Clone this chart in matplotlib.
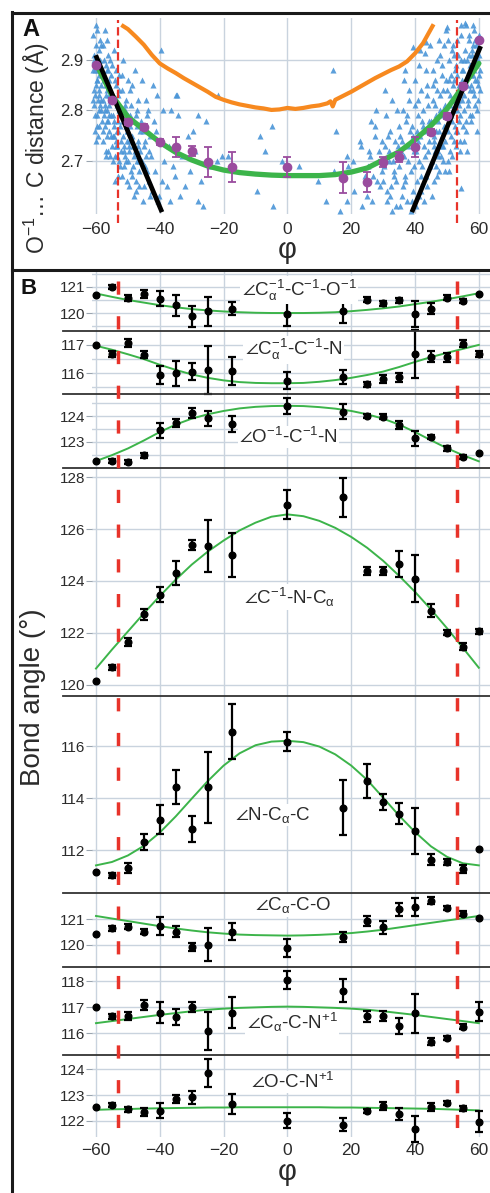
import matplotlib
matplotlib.use('Agg')
import matplotlib.pyplot as plt
from matplotlib.lines import Line2D
from matplotlib import transforms

plt.rcParams['font.family'] = ['Liberation Sans', 'DejaVu Sans']
plt.rcParams['mathtext.fontset'] = 'custom'
plt.rcParams['mathtext.rm'] = 'Liberation Sans'
plt.rcParams['mathtext.it'] = 'Liberation Sans:italic'
plt.rcParams['mathtext.bf'] = 'Liberation Sans:bold'
plt.rcParams['mathtext.fallback'] = 'stixsans'
plt.rcParams['lines.scale_dashes'] = False

# ---------------- data: panel A ----------------
phi_ticks = [-60, -40, -20, 0, 20, 40, 60]

meanA_phi = [-60, -55, -50, -45, -40, -35, -30, -25, -17.5, 0, 17.5, 25, 30, 35, 40, 45, 50, 55, 60]
meanA_dist = [2.89, 2.82, 2.777, 2.768, 2.738, 2.728, 2.719, 2.698, 2.688, 2.688, 2.667, 2.659,
              2.698, 2.708, 2.728, 2.758, 2.789, 2.848, 2.94]
meanA_err = [0, 0.004, 0.006, 0.006, 0.006, 0.02, 0.01, 0.03, 0.03, 0.02, 0.03, 0.02,
             0.01, 0.01, 0.02, 0.006, 0.006, 0.006, 0]

fitA_phi = [-60, -55, -50, -45, -40, -35, -30, -25, -20, -15, -10, -5, 0, 5, 10, 15, 20, 25, 30, 35, 40, 45, 50, 55, 60]
fitA_dist = [2.893, 2.830, 2.787, 2.762, 2.737, 2.717, 2.702, 2.690, 2.682, 2.677, 2.674, 2.672, 2.671,
             2.671, 2.671, 2.673, 2.678, 2.686, 2.702, 2.718, 2.742, 2.770, 2.803, 2.847, 2.893]

orange_phi = [-51.5, -50, -47.5, -45, -42.5, -40, -37.5, -35, -32.5, -30, -27.5, -25, -22.5, -20, -17.5,
              -15, -12.5, -10, -7.5, -5, -2.5, 0, 2.5, 5, 7.5, 10, 12.5, 13.5, 14.2, 15, 17.5, 20, 22.5,
              25, 27.5, 30, 32.5, 35, 37.5, 40, 42.5, 45.5]
orange_dist = [2.967, 2.961, 2.946, 2.930, 2.910, 2.893, 2.883, 2.874, 2.864, 2.855, 2.846, 2.837, 2.827,
               2.821, 2.816, 2.812, 2.809, 2.806, 2.804, 2.801, 2.802, 2.805, 2.803, 2.805, 2.808, 2.810,
               2.814, 2.818, 2.808, 2.821, 2.829, 2.837, 2.846, 2.855, 2.864, 2.872, 2.880, 2.887, 2.897,
               2.913, 2.933, 2.967]

lineL_phi = [-59.8, -39.6]
lineL_dist = [2.905, 2.603]
lineR_phi = [39.3, 60.3]
lineR_dist = [2.603, 2.923]

boundary_phi = [-53, 53]

scatter_phi = [
    -60.8, -60.5, -60.2, -59.9, -59.6, -59.3, -59.0, -58.7, -58.4, -58.1,
    -60.6, -60.1, -59.7, -59.2, -58.9, -58.5, -58.2, -60.9, -60.3, -59.5,
    -60.7, -60.0, -59.4, -58.8, -58.3, -60.4, -59.8, -59.1, -58.6, -60.2,
    -59.9, -59.3, -58.7, -60.5, -59.6, -58.9, -60.8, -59.0, -58.4, -59.7,
    -57.9, -57.6, -57.3, -57.0, -56.7, -56.4, -56.1, -55.8, -55.5, -55.2,
    -57.7, -57.2, -56.8, -56.3, -55.9, -55.4, -57.5, -56.9, -56.2, -55.6,
    -57.8, -57.1, -56.6, -56.0, -55.3, -57.4, -56.5, -55.7, -57.0, -56.1,
    -55.5, -57.6, -56.8, -56.0, -55.1, -57.3, -56.4, -55.8, -57.9, -56.7,
    -54.9, -54.6, -54.3, -54.0, -53.7, -53.4, -53.1, -52.8, -52.5, -52.2,
    -54.7, -54.2, -53.8, -53.3, -52.9, -52.4, -54.5, -53.9, -53.2, -52.6,
    -54.8, -54.1, -53.6, -53.0, -52.3, -54.4, -53.5, -52.7, -54.0, -53.1,
    -52.1, -54.6, -53.8, -52.9, -53.4,
    -51.8, -51.5, -51.2, -50.9, -50.6, -50.3, -50.0, -49.7, -49.4, -49.1,
    -51.6, -51.1, -50.7, -50.2, -49.8, -49.3, -51.4, -50.8, -50.1, -49.5,
    -51.9, -51.0, -50.4, -49.9, -49.2, -51.3, -50.5, -49.6, -51.7, -50.0,
    -48.9, -48.6, -48.3, -48.0, -47.7, -47.4, -47.1, -46.8, -46.5, -46.2,
    -48.7, -48.1, -47.6, -47.0, -46.4, -48.4, -47.8, -47.2, -46.6, -46.1,
    -48.8, -47.5, -46.9, -48.2, -46.7,
    -45.9, -45.5, -45.1, -44.7, -44.3, -43.9, -43.5, -43.1, -45.7,
    -45.2, -44.6, -44.0, -43.4, -45.4, -44.8, -44.2, -43.7, -43.2,
    -42.8, -42.3, -41.9, -41.4, -40.9, -40.5, -40.1, -39.6, -39.2, -38.7, -42.0, -41.1, -40.3, -38.9,
    -37.8, -37.0, -36.4, -35.8, -35.3, -34.8, -34.3, -33.6, -32.9, -32.1, -31.3, -30.6, -36.9, -34.5,
    -29.5, -29.0, -28.1, -28.1, -27.0, -25.6, -24.5, -22.2, -21.7, -20.4, -18.7, -26.5,
    -9.6, -8.6, -7.0, -4.9, -4.4, -1.8, 3.7, 9.5, 14.2, 12.0,
    14.6, 15.2, 18.6, 19.0, 18.6, 22.8, 23.3, 23.0, 21.0, 24.2, 16.5, 20.5,
    25.0, 25.6, 26.2, 26.8, 27.3, 27.9, 28.4, 29.0, 29.5, 25.3, 26.5, 27.6, 28.8, 29.8, 26.0, 28.2,
    30.1, 30.5, 30.9, 31.3, 31.7, 32.1, 32.5, 32.9, 33.3, 33.7, 34.1, 34.5, 34.9,
    30.3, 31.1, 31.9, 32.7, 33.5, 34.3,
    30.7, 31.5, 32.3, 33.1, 33.9, 34.7,
    35.1, 35.4, 35.8, 36.1, 36.5, 36.8, 37.2, 37.5, 37.9, 38.2, 38.6, 38.9, 39.3, 39.6, 39.9,
    35.3, 35.9, 36.6, 37.0, 37.7, 38.4, 39.1, 39.7, 35.6, 36.3, 37.4, 38.0, 38.7, 39.4, 36.9,
    40.2, 40.5, 40.9, 41.2, 41.6, 41.9, 42.3, 42.6, 43.0, 43.3, 43.7, 44.0, 44.4, 44.7,
    40.4, 40.8, 41.4, 41.8, 42.2, 42.8, 43.2, 43.6, 44.2, 44.8, 40.1, 41.0, 41.7, 42.5, 43.4, 44.5,
    40.7, 41.3, 42.0, 42.9, 43.9,
    45.1, 45.3, 45.6, 45.9, 46.1, 46.4, 46.7, 46.9, 47.2, 47.5, 47.8, 48.0, 48.3, 48.6, 48.9, 49.1, 49.4, 49.7,
    45.2, 45.7, 46.2, 46.6, 47.0, 47.4, 47.9, 48.4, 48.8, 49.3, 49.8,
    45.5, 46.0, 46.5, 47.1, 47.6, 48.1, 48.7, 49.2, 49.6,
    45.8, 46.8, 47.7, 48.5, 49.5, 46.3, 47.3,
    50.1, 50.3, 50.6, 50.9, 51.1, 51.4, 51.7, 51.9, 52.2, 52.5, 52.8, 53.0, 53.3, 53.6, 53.9, 54.1, 54.4, 54.7,
    50.2, 50.7, 51.2, 51.6, 52.0, 52.4, 52.9, 53.4, 53.8, 54.3, 54.8,
    50.5, 51.0, 51.5, 52.1, 52.6, 53.1, 53.7, 54.2, 54.6,
    50.4, 50.8, 51.3, 51.8, 52.3, 52.7, 53.2, 53.5, 54.0, 54.5, 54.9, 51.9,
    55.1, 55.3, 55.6, 55.9, 56.2, 56.4, 56.7, 57.0, 57.3, 57.5, 57.8, 58.1, 58.4, 58.6, 58.9, 59.2, 59.5, 59.8, 60.1, 60.4,
    55.2, 55.7, 56.1, 56.6, 57.1, 57.6, 58.0, 58.5, 59.0, 59.4, 59.9, 60.3,
    55.5, 56.0, 56.9, 57.4, 58.2, 58.8, 59.6, 60.2,
    55.4, 56.3, 57.2, 57.9, 58.7, 59.3, 60.0, 56.8, 58.3, 59.7,
    43.4, 49.9, 39.5, 43.1, 54.3, 48.9, 55.7, 58.3,
]
scatter_dist = [
    2.95, 2.91, 2.88, 2.93, 2.86, 2.90, 2.84, 2.89, 2.82, 2.87,
    2.81, 2.85, 2.79, 2.83, 2.92, 2.80, 2.78, 2.88, 2.76, 2.82,
    2.84, 2.97, 2.75, 2.94, 2.85, 2.79, 2.86, 2.77, 2.90, 2.83,
    2.74, 2.88, 2.81, 2.90, 2.96, 2.87, 2.82, 2.80, 2.93, 2.77,
    2.93, 2.86, 2.81, 2.89, 2.78, 2.84, 2.91, 2.76, 2.82, 2.87,
    2.74, 2.80, 2.85, 2.72, 2.79, 2.75, 2.90, 2.83, 2.88, 2.71,
    2.82, 2.77, 2.94, 2.81, 2.79, 2.87, 2.75, 2.84, 2.72, 2.78,
    2.90, 2.79, 2.71, 2.86, 2.73, 2.96, 2.80, 2.83, 2.76, 2.88,
    2.89, 2.83, 2.78, 2.86, 2.74, 2.81, 2.76, 2.84, 2.79, 2.72,
    2.70, 2.77, 2.88, 2.73, 2.80, 2.69, 2.75, 2.82, 2.67, 2.77,
    2.79, 2.71, 2.85, 2.78, 2.74, 2.92, 2.76, 2.70, 2.66, 2.83,
    2.80, 2.75, 2.73, 2.87, 2.71,
    2.84, 2.78, 2.73, 2.81, 2.70, 2.76, 2.86, 2.72, 2.79, 2.68,
    2.75, 2.69, 2.82, 2.66, 2.74, 2.77, 2.90, 2.71, 2.79, 2.73,
    2.67, 2.80, 2.74, 2.70, 2.84, 2.72, 2.77, 2.65, 2.87, 2.76,
    2.81, 2.75, 2.69, 2.78, 2.72, 2.66, 2.80, 2.74, 2.70, 2.76,
    2.85, 2.71, 2.64, 2.77, 2.68, 2.73, 2.88, 2.70, 2.65, 2.72,
    2.67, 2.79, 2.73, 2.63, 2.82,
    2.78, 2.70, 2.65, 2.74, 2.82, 2.68, 2.72, 2.63, 2.86,
    2.76, 2.69, 2.79, 2.66, 2.62, 2.73, 2.71, 2.80, 2.75,
    2.71, 2.64, 2.78, 2.68, 2.83, 2.62, 2.74, 2.92, 2.66, 2.70, 2.85, 2.76, 2.63, 2.80,
    2.65, 2.73, 2.80, 2.69, 2.67, 2.83, 2.79, 2.63, 2.71, 2.65, 2.75, 2.68, 2.62, 2.83,
    2.76, 2.72, 2.79, 2.62, 2.66, 2.78, 2.69, 2.70, 2.83, 2.71, 2.71, 2.61,
    2.64, 2.75, 2.72, 2.77, 2.61, 2.70, 2.69, 2.66, 2.88, 2.62,
    2.68, 2.76, 2.71, 2.69, 2.62, 2.74, 2.61, 2.73, 2.64, 2.67, 2.60, 2.70,
    2.63, 2.72, 2.78, 2.67, 2.75, 2.80, 2.70, 2.65, 2.74, 2.69, 2.62, 2.77, 2.72, 2.68, 2.71, 2.66,
    2.66, 2.73, 2.79, 2.62, 2.70, 2.76, 2.65, 2.82, 2.68, 2.74, 2.61, 2.71, 2.77,
    2.69, 2.64, 2.72, 2.60, 2.67, 2.80,
    2.84, 2.75, 2.63, 2.70, 2.66, 2.73,
    2.69, 2.75, 2.63, 2.80, 2.71, 2.66, 2.78, 2.62, 2.73, 2.84, 2.68, 2.77, 2.64, 2.72, 2.81,
    2.61, 2.74, 2.86, 2.67, 2.70, 2.76, 2.62, 2.69, 2.72, 2.65, 2.79, 2.82, 2.60, 2.75, 2.88,
    2.72, 2.66, 2.79, 2.63, 2.75, 2.84, 2.69, 2.77, 2.71, 2.88, 2.65, 2.81, 2.74, 2.93,
    2.61, 2.82, 2.70, 2.67, 2.78, 2.62, 2.76, 2.85, 2.72, 2.69, 2.86, 2.74, 2.92, 2.80, 2.67, 2.78,
    2.76, 2.89, 2.64, 2.73, 2.83,
    2.78, 2.70, 2.85, 2.74, 2.66, 2.81, 2.76, 2.90, 2.72, 2.68, 2.83, 2.79, 2.75, 2.87, 2.70, 2.93, 2.81, 2.77,
    2.63, 2.88, 2.72, 2.79, 2.84, 2.76, 2.91, 2.73, 2.80, 2.68, 2.86,
    2.82, 2.75, 2.69, 2.78, 2.94, 2.71, 2.84, 2.77, 2.96,
    2.73, 2.67, 2.80, 2.89, 2.74, 2.86, 2.71,
    2.84, 2.76, 2.90, 2.72, 2.81, 2.87, 2.78, 2.93, 2.74, 2.83, 2.89, 2.80, 2.76, 2.91, 2.85, 2.79, 2.95, 2.82,
    2.70, 2.86, 2.75, 2.92, 2.80, 2.88, 2.73, 2.84, 2.78, 2.90, 2.86,
    2.79, 2.83, 2.71, 2.86, 2.77, 2.94, 2.81, 2.74, 2.88,
    2.94, 2.68, 2.79, 2.85, 2.91, 2.76, 2.87, 2.82, 2.72, 2.97, 2.77, 2.82,
    2.88, 2.80, 2.92, 2.76, 2.85, 2.90, 2.82, 2.94, 2.79, 2.87, 2.91, 2.84, 2.96, 2.88, 2.81, 2.93, 2.86, 2.90, 2.95, 2.84,
    2.74, 2.86, 2.97, 2.81, 2.89, 2.78, 2.92, 2.83, 2.89, 2.80, 2.94, 2.88,
    2.83, 2.78, 2.91, 2.85, 2.87, 2.94, 2.82, 2.91,
    2.90, 2.72, 2.84, 2.79, 2.86, 2.76, 2.87, 2.95, 2.93, 2.85,
    2.936, 2.966, 2.926, 2.913, 2.646, 2.73, 2.973, 2.97,
]

# ---------------- data: panel B ----------------
phi_b = [-60, -55, -50, -45, -40, -35, -30, -25, -17.5, 0, 17.5, 25, 30, 35, 40, 45, 50, 55, 60]
fit_phi = [-60, -55, -50, -45, -40, -35, -30, -25, -20, -15, -10, -5, 0, 5, 10, 15, 20, 25, 30, 35, 40, 45, 50, 55, 60]

ang1_mean = [120.68, 121.0, 120.58, 120.74, 120.55, 120.3, 119.87, 120.06, 120.17, 119.97, 120.08, 120.51, 120.38, 120.49, 119.95, 120.17, 120.59, 120.46, 120.72]
ang1_err = [0, 0.08, 0.1, 0.15, 0.3, 0.4, 0.4, 0.55, 0.25, 0.45, 0.45, 0.1, 0.1, 0.1, 0.5, 0.2, 0.1, 0.08, 0]
ang1_fit = [120.75, 120.62, 120.5, 120.4, 120.3, 120.22, 120.15, 120.1, 120.06, 120.03, 120.01, 120.0, 120.0, 120.0, 120.01, 120.03, 120.07, 120.12, 120.18, 120.25, 120.34, 120.43, 120.53, 120.64, 120.76]

ang2_mean = [117.0, 116.68, 117.06, 116.65, 115.94, 116.0, 116.06, 116.12, 116.09, 115.74, 115.86, 115.61, 115.8, 115.86, 116.67, 116.59, 116.56, 117.04, 116.68]
ang2_err = [0, 0.1, 0.15, 0.12, 0.3, 0.45, 0.3, 0.85, 0.5, 0.3, 0.25, 0.08, 0.15, 0.15, 0.85, 0.2, 0.15, 0.12, 0.1]
ang2_fit = [116.97, 116.83, 116.67, 116.5, 116.3, 116.12, 115.96, 115.84, 115.75, 115.69, 115.66, 115.65, 115.65, 115.66, 115.7, 115.76, 115.84, 115.94, 116.06, 116.22, 116.4, 116.57, 116.72, 116.86, 117.0]

ang3_mean = [122.26, 122.25, 122.22, 122.48, 123.45, 123.74, 124.13, 123.91, 123.69, 124.39, 124.17, 124.0, 123.97, 123.65, 123.13, 123.19, 122.74, 122.42, 122.57]
ang3_err = [0, 0.08, 0.08, 0.1, 0.3, 0.15, 0.2, 0.3, 0.3, 0.3, 0.3, 0.08, 0.1, 0.15, 0.3, 0.08, 0.08, 0.08, 0]
ang3_fit = [122.25, 122.48, 122.74, 123.05, 123.38, 123.67, 123.9, 124.07, 124.2, 124.3, 124.36, 124.39, 124.4, 124.39, 124.35, 124.29, 124.2, 124.07, 123.9, 123.67, 123.38, 123.06, 122.75, 122.48, 122.24]

ang4_mean = [120.15, 120.67, 121.64, 122.71, 123.47, 124.31, 125.38, 125.34, 125.02, 126.95, 127.23, 124.37, 124.37, 124.65, 124.09, 122.86, 122.0, 121.47, 122.06]
ang4_err = [0, 0.1, 0.15, 0.2, 0.3, 0.45, 0.2, 1.0, 0.85, 0.55, 0.75, 0.15, 0.15, 0.5, 0.9, 0.25, 0.1, 0.15, 0.1]
ang4_fit = [120.62, 121.35, 122.05, 122.75, 123.42, 124.05, 124.63, 125.13, 125.56, 125.95, 126.25, 126.48, 126.57, 126.5, 126.32, 126.05, 125.7, 125.28, 124.78, 124.2, 123.58, 122.9, 122.18, 121.42, 120.65]

ang5_mean = [111.17, 111.04, 111.33, 112.32, 113.18, 114.44, 112.83, 114.41, 116.55, 116.17, 113.63, 114.67, 113.86, 113.41, 112.74, 111.64, 111.55, 111.29, 112.06]
ang5_err = [0, 0.1, 0.2, 0.3, 0.55, 0.65, 0.5, 1.35, 1.05, 0.35, 1.05, 0.65, 0.3, 0.4, 0.9, 0.2, 0.1, 0.15, 0]
ang5_fit = [111.42, 111.55, 111.8, 112.17, 112.68, 113.3, 113.98, 114.65, 115.25, 115.72, 116.03, 116.17, 116.2, 116.15, 115.98, 115.68, 115.25, 114.7, 114.02, 113.33, 112.7, 112.15, 111.75, 111.5, 111.42]

ang6_mean = [120.43, 120.65, 120.71, 120.52, 120.74, 120.52, 119.91, 120.0, 120.52, 119.87, 120.32, 120.94, 120.69, 121.39, 121.49, 121.73, 121.43, 121.21, 121.04]
ang6_err = [0, 0.1, 0.1, 0.1, 0.35, 0.2, 0.15, 0.65, 0.35, 0.35, 0.2, 0.2, 0.25, 0.25, 0.35, 0.15, 0.08, 0.1, 0]
ang6_fit = [121.13, 121.03, 120.93, 120.83, 120.73, 120.64, 120.56, 120.49, 120.44, 120.4, 120.38, 120.37, 120.36, 120.37, 120.39, 120.42, 120.46, 120.52, 120.59, 120.68, 120.77, 120.86, 120.95, 121.04, 121.13]

ang7_mean = [117.03, 116.65, 116.67, 117.1, 116.8, 116.62, 117.01, 116.09, 116.8, 118.06, 117.65, 116.65, 116.67, 116.28, 116.77, 115.68, 115.81, 116.26, 116.84]
ang7_err = [0, 0.1, 0.15, 0.2, 0.4, 0.3, 0.2, 0.75, 0.6, 0.35, 0.45, 0.2, 0.2, 0.3, 0.75, 0.15, 0.08, 0.1, 0.35]
ang7_fit = [116.39, 116.47, 116.55, 116.63, 116.71, 116.78, 116.85, 116.91, 116.95, 116.98, 117.0, 117.02, 117.03, 117.02, 117.0, 116.98, 116.95, 116.91, 116.85, 116.78, 116.71, 116.63, 116.55, 116.47, 116.39]

ang8_mean = [122.53, 122.62, 122.45, 122.36, 122.4, 122.85, 122.92, 123.85, 122.66, 122.01, 121.85, 122.4, 122.58, 122.27, 121.68, 122.55, 122.71, 122.49, 121.97]
ang8_err = [0, 0.08, 0.1, 0.15, 0.3, 0.15, 0.25, 0.55, 0.4, 0.3, 0.25, 0.08, 0.15, 0.25, 0.5, 0.15, 0.08, 0.1, 0.4]
ang8_fit = [122.43, 122.45, 122.46, 122.48, 122.49, 122.5, 122.51, 122.52, 122.52, 122.53, 122.53, 122.53, 122.53, 122.53, 122.53, 122.52, 122.52, 122.51, 122.5, 122.49, 122.48, 122.47, 122.45, 122.43, 122.41]

angle_labels = [
    '$\\angle$C$_{\\mathrm{α}}^{-1}$-C$^{-1}$-O$^{-1}$',
    '$\\angle$C$_{\\mathrm{α}}^{-1}$-C$^{-1}$-N',
    '$\\angle$O$^{-1}$-C$^{-1}$-N',
    '$\\angle$C$^{-1}$-N-C$_{\\mathrm{α}}$',
    '$\\angle$N-C$_{\\mathrm{α}}$-C',
    '$\\angle$C$_{\\mathrm{α}}$-C-O',
    '$\\angle$C$_{\\mathrm{α}}$-C-N$^{+1}$',
    '$\\angle$O-C-N$^{+1}$',
]

# ---------------- layout helpers ----------------
W, H = 490, 1193
fig = plt.figure(figsize=(W / 100, H / 100), dpi=100)
fig.patch.set_facecolor('white')


def fx(px):
    return px / W


def fy(py):
    return 1 - py / H


GRID = '#c9d3de'
GREEN = '#3cb44a'
RED = '#e8332a'
TXT = '#2b2b2b'
AX_L, AX_R = 92, 490
XLIM = (-61.25, 63.5)

# ---------------- panel A ----------------
axA = fig.add_axes([fx(AX_L), fy(214), fx(AX_R) - fx(AX_L), (214 - 18) / H])
axA.set_xlim(*XLIM)
axA.set_ylim(2.595, 2.983)
for s in axA.spines.values():
    s.set_visible(False)
axA.set_xticks(phi_ticks)
axA.set_yticks([2.7, 2.8, 2.9])
axA.set_yticklabels(['2.7', '2.8', '2.9'])
axA.grid(True, color=GRID, lw=1.0)
axA.set_axisbelow(True)
axA.tick_params(axis='y', length=4, color='#9aa5b0', labelsize=12, pad=2.5, labelcolor=TXT)
axA.tick_params(axis='x', length=0, labelsize=12.5, pad=5.5, labelcolor=TXT)

axA.scatter(scatter_phi, scatter_dist, marker='^', s=19, color='#4a95d7', alpha=0.9,
            linewidths=0, zorder=1, clip_on=False)
for xv in boundary_phi:
    axA.plot([xv, xv], [2.578, 2.98], color=RED, lw=1.6, dashes=(6, 3), clip_on=False, zorder=2)
axA.plot(orange_phi, orange_dist, color='#f7891f', lw=3.0, zorder=3, solid_joinstyle='round')
axA.plot(fitA_phi, fitA_dist, color=GREEN, lw=3.8, zorder=4, solid_capstyle='round')
axA.plot(lineL_phi, lineL_dist, color='black', lw=3.4, zorder=5)
axA.plot(lineR_phi, lineR_dist, color='black', lw=3.4, zorder=5)
axA.errorbar(meanA_phi, meanA_dist, yerr=meanA_err, fmt='o', color='#9a4c9e', ms=6,
             capsize=3, elinewidth=1.3, capthick=1.3, zorder=6, clip_on=False)

fig.text(fx(37), fy(148), 'O$^{-1}$… C distance (Å)', rotation=90, ha='center', va='center',
         fontsize=16.5, color=TXT)
fig.text(fx(287), fy(250), 'φ', ha='center', va='center', fontsize=21, color=TXT)
fig.text(fx(22), fy(36), 'A', ha='left', va='baseline', fontsize=17, weight='bold', color='#111')

# ---------------- panel B ----------------
panels = [
    dict(top=270, bot=331, ylim=(119.31, 121.65), ticks=[120, 121], grid=[119.5, 120, 120.5, 121, 121.5],
         mean=ang1_mean, err=ang1_err, fit=ang1_fit, lx=0.52, ly=0.67),
    dict(top=331, bot=394, ylim=(115.27, 117.49), ticks=[116, 117], grid=[115.5, 116, 116.5, 117],
         mean=ang2_mean, err=ang2_err, fit=ang2_fit, lx=0.506, ly=0.70),
    dict(top=394, bot=468, ylim=(121.98, 124.86), ticks=[123, 124], grid=[122.5, 123, 123.5, 124, 124.5],
         mean=ang3_mean, err=ang3_err, fit=ang3_fit, lx=0.494, ly=0.42),
    dict(top=468, bot=696, ylim=(119.56, 128.36), ticks=[120, 122, 124, 126, 128], grid=[120, 122, 124, 126, 128],
         mean=ang4_mean, err=ang4_err, fit=ang4_fit, lx=0.497, ly=0.434),
    dict(top=696, bot=893, ylim=(110.36, 117.92), ticks=[112, 114, 116], grid=[112, 114, 116],
         mean=ang5_mean, err=ang5_err, fit=ang5_fit, lx=0.454, ly=0.395),
    dict(top=893, bot=967, ylim=(119.13, 122.03), ticks=[120, 121], grid=[120, 121],
         mean=ang6_mean, err=ang6_err, fit=ang6_fit, lx=0.506, ly=0.835),
    dict(top=967, bot=1055, ylim=(115.16, 118.56), ticks=[116, 117, 118], grid=[116, 117, 118],
         mean=ang7_mean, err=ang7_err, fit=ang7_fit, lx=0.503, ly=0.365),
    dict(top=1055, bot=1137, ylim=(121.38, 124.55), ticks=[122, 123, 124], grid=[122, 123, 124],
         mean=ang8_mean, err=ang8_err, fit=ang8_fit, lx=0.505, ly=0.67),
]

axes_b = []
for i, p in enumerate(panels):
    ax = fig.add_axes([fx(AX_L), fy(p['bot']), fx(AX_R) - fx(AX_L), (p['bot'] - p['top']) / H])
    axes_b.append(ax)
    ax.set_xlim(*XLIM)
    ax.set_ylim(*p['ylim'])
    ax.patch.set_alpha(0)
    for s in ax.spines.values():
        s.set_visible(False)
    ax.set_yticks(p['ticks'])
    ax.set_yticklabels([str(t) for t in p['ticks']])
    for g in p['grid']:
        ax.axhline(g, color=GRID, lw=1.0, zorder=0)
    for xv in phi_ticks:
        ax.axvline(xv, color=GRID, lw=1.0, zorder=0)
    ax.set_xticks(phi_ticks)
    ax.tick_params(axis='y', length=4, color='#9aa5b0', labelsize=11, pad=1, labelcolor=TXT)
    ax.tick_params(axis='x', length=0, labelsize=12.5, pad=4.5, labelcolor=TXT,
                   labelbottom=(i == len(panels) - 1))
    ax.plot(fit_phi, p['fit'], color=GREEN, lw=1.4, zorder=2)
    ex = [x for x, e in zip(phi_b, p['err']) if e > 0]
    ey = [m for m, e in zip(p['mean'], p['err']) if e > 0]
    ee = [e for e in p['err'] if e > 0]
    ax.errorbar(ex, ey, yerr=ee, fmt='none', ecolor='black', elinewidth=1.6, capsize=2.8,
                capthick=1.6, zorder=3, clip_on=False)
    ax.plot(phi_b, p['mean'], 'o', color='black', ms=4.8, zorder=4, clip_on=False)
    ax.text(p['lx'], p['ly'], angle_labels[i], transform=ax.transAxes, ha='center', va='center',
            fontsize=13.5, color=TXT, zorder=5,
            bbox=dict(facecolor='white', edgecolor='none', pad=1.0))

# red boundaries across all B sub-panels
trans = transforms.blended_transform_factory(axes_b[-1].transData, fig.transFigure)
for xv in boundary_phi:
    fig.add_artist(Line2D([xv, xv], [fy(281), fy(1142)], transform=trans, color=RED, lw=2.5,
                          dashes=(9.5, 15.5), zorder=10))

# separators between sub-panels
for py in [331, 394, 468, 696, 893, 967, 1055]:
    fig.add_artist(Line2D([fx(63), fx(490)], [fy(py), fy(py)], color='#333333', lw=1.3, zorder=9))

fig.text(fx(33), fy(697), 'Bond angle (°)', rotation=90, ha='center', va='center', fontsize=20, color=TXT)
fig.text(fx(287), fy(1172), 'φ', ha='center', va='center', fontsize=21, color=TXT)
fig.text(fx(20), fy(294), 'B', ha='left', va='baseline', fontsize=16, weight='bold', color='#111')

# outer frame
for xs, ys in [([12, 12], [12, 1193]), ([12, 490], [13, 13]), ([12, 490], [270, 270])]:
    fig.add_artist(Line2D([fx(x) for x in xs], [fy(y) for y in ys], color='#1a1a1a', lw=2.2, zorder=11))

fig.savefig('out.png', dpi=100, facecolor='white')
